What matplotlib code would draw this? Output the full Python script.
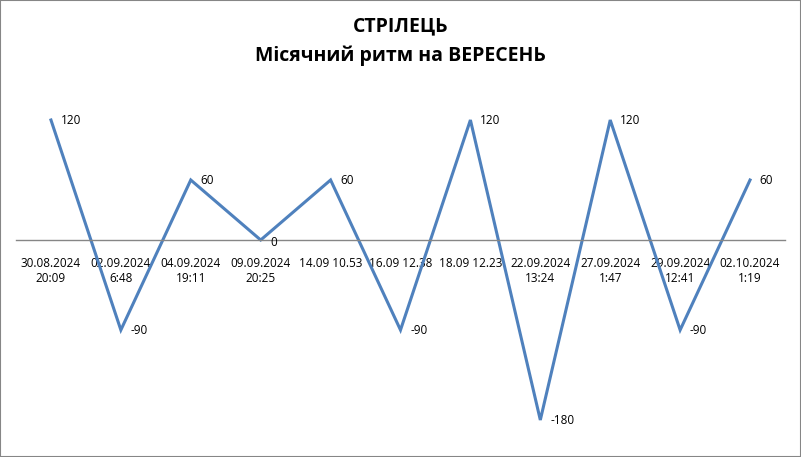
import numpy as np
import matplotlib.pyplot as plt
from matplotlib.patches import Rectangle

title = 'СТРІЛЕЦЬ\nМісячний ритм на ВЕРЕСЕНЬ'
dates = ['30.08.2024\n20:09', '02.09.2024\n6:48', '04.09.2024\n19:11',
         '09.09.2024\n20:25', '14.09 10.53', '16.09 12.38', '18.09 12.23',
         '22.09.2024\n13:24', '27.09.2024\n1:47', '29.09.2024\n12:41',
         '02.10.2024\n1:19']
values = [120, -90, 60, 0, 60, -90, 120, -180, 120, -90, 60]

plt.rcParams['font.family'] = ['Open Sans', 'DejaVu Sans']

fig = plt.figure(figsize=(8.01, 4.57), dpi=100)
W, H = 801, 457
ax = fig.add_axes([16 / W, 17 / H, (785 - 16) / W, 350 / H])

x = np.arange(len(values))
ax.plot(x, values, color='#4F81BD', linewidth=2.2, solid_joinstyle='miter')
for xi, v in zip(x, values):
    ax.annotate(str(v), (xi, v), xytext=(7, 0 if v != 0 else -2),
                textcoords='offset points', ha='left', va='center', fontsize=8.5)

ax.set_xlim(-0.5, len(values) - 0.5)
ax.set_ylim(-200, 150)
for s in ['top', 'right', 'left']:
    ax.spines[s].set_visible(False)
ax.spines['bottom'].set_position(('data', 0))
ax.spines['bottom'].set_color('#868686')
ax.spines['bottom'].set_linewidth(1)
ax.set_yticks([])
ax.set_xticks(x)
ax.set_xticklabels(dates, fontsize=8.5, linespacing=1.25)
ax.tick_params(axis='x', length=0, pad=12)

fig.text(0.5, 1 - 16 / H, title, ha='center', va='top', fontsize=14,
         fontweight='bold', linespacing=1.6)
fig.patches.append(Rectangle((0, 0), 1, 1, transform=fig.transFigure,
                             fill=False, edgecolor='#868686', linewidth=1.5))
fig.savefig('out.png', dpi=100)
